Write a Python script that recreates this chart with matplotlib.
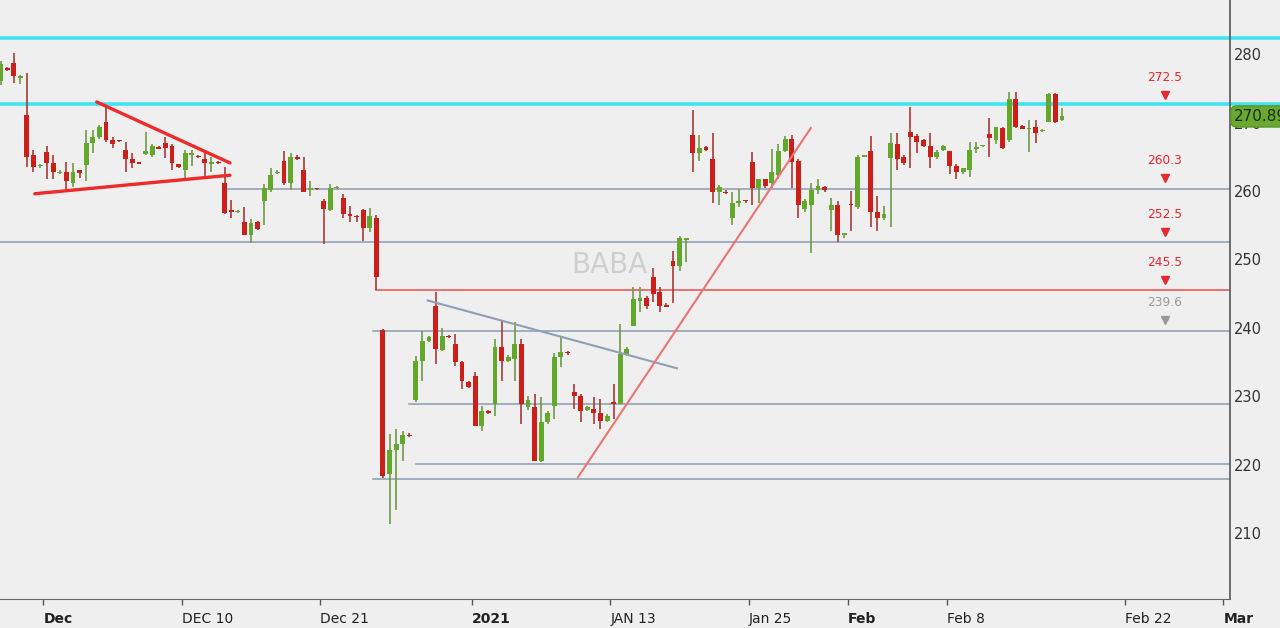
import matplotlib.pyplot as plt
import numpy as np

# 130-minute bars (3 per trading day), BABA late Nov 2020 - Feb 2021
opens = [276.0, 278.0, 278.7, 276.5, 271.1, 265.2, 263.6, 265.7, 264.1, 262.6,
         262.7, 261.2, 263.0, 263.8, 267.0, 267.9, 270.1, 267.5, 267.4, 266.0,
         264.7, 264.2, 265.4, 265.3, 266.4, 267.0, 266.5, 263.9, 263.1, 265.2,
         265.1, 264.7, 264.0, 264.2, 261.1, 257.2, 256.9, 255.4, 253.5, 255.4,
         258.5, 260.2, 262.6, 264.4, 261.1, 264.9, 263.0, 260.2, 260.4, 258.5,
         257.2, 260.4, 259.0, 256.6, 256.4, 257.2, 254.6, 256.1, 239.7, 218.7,
         222.1, 223.0, 224.4, 229.4, 235.2, 238.1, 243.2, 236.8, 238.8, 237.6,
         235.0, 232.1, 233.0, 225.7, 227.9, 228.9, 237.2, 235.2, 235.4, 237.7,
         228.4, 228.5, 220.5, 226.3, 228.6, 235.8, 236.5, 230.6, 230.1, 228.0,
         228.2, 227.5, 226.4, 229.0, 228.9, 236.1, 240.3, 244.0, 244.3, 247.5,
         245.2, 243.3, 249.7, 249.0, 252.9, 268.2, 265.6, 266.4, 264.7, 259.8,
         259.9, 256.0, 258.2, 258.6, 264.3, 260.5, 261.7, 261.2, 262.4, 265.9,
         267.6, 264.4, 257.3, 258.0, 260.1, 260.6, 257.2, 257.9, 253.6, 258.1,
         257.7, 265.0, 265.9, 257.0, 256.0, 264.8, 266.8, 264.9, 268.6, 268.0,
         267.5, 266.6, 264.9, 266.0, 265.9, 263.7, 262.8, 263.1, 266.1, 266.5,
         268.3, 267.5, 269.2, 267.5, 273.5, 269.5, 269.0, 269.3, 268.7, 270.1,
         274.1, 270.3]
highs = [279.0, 278.1, 280.1, 277.0, 277.2, 266.0, 264.0, 266.6, 265.3, 263.0,
         264.3, 264.1, 263.1, 268.9, 268.9, 269.6, 272.3, 267.9, 267.5, 267.2,
         265.6, 264.3, 268.6, 266.9, 266.5, 267.9, 266.8, 264.0, 266.0, 266.0,
         265.2, 265.6, 264.9, 264.4, 263.5, 258.7, 257.2, 257.7, 255.9, 255.6,
         261.0, 263.4, 263.0, 265.9, 265.5, 265.2, 265.0, 261.4, 260.5, 258.8,
         261.0, 260.7, 259.5, 257.8, 256.5, 257.3, 257.5, 256.5, 239.9, 224.5,
         225.3, 224.9, 224.6, 235.9, 239.6, 238.8, 245.2, 240.0, 239.0, 239.1,
         235.2, 232.3, 233.6, 228.6, 228.0, 238.4, 241.0, 236.0, 240.8, 238.4,
         230.0, 230.4, 229.9, 227.8, 236.3, 238.8, 236.6, 231.8, 230.4, 228.6,
         229.9, 229.6, 227.4, 231.8, 240.6, 237.2, 245.9, 245.9, 244.6, 248.7,
         246.0, 243.6, 251.3, 253.4, 253.2, 271.8, 268.2, 266.5, 268.5, 260.9,
         260.1, 259.8, 260.3, 258.7, 265.7, 261.7, 261.7, 266.2, 266.8, 268.0,
         268.2, 264.6, 258.8, 261.2, 261.7, 260.8, 259.0, 258.5, 253.8, 260.0,
         265.3, 265.3, 268.0, 259.2, 257.8, 268.5, 268.5, 265.2, 272.2, 268.3,
         267.6, 268.4, 266.0, 266.7, 265.9, 264.0, 263.4, 267.2, 267.2, 266.6,
         270.7, 269.4, 269.3, 274.5, 274.5, 269.6, 270.4, 270.4, 269.1, 274.3,
         274.3, 272.1]
lows = [275.5, 277.6, 275.8, 275.7, 263.5, 262.7, 263.3, 261.8, 261.7, 262.5,
        260.2, 260.6, 261.9, 261.4, 265.6, 267.6, 267.2, 266.3, 267.2, 262.7,
        263.4, 263.9, 265.2, 265.0, 266.1, 264.8, 263.1, 263.4, 261.4, 263.6,
        264.8, 262.1, 262.7, 264.0, 256.6, 256.1, 256.8, 253.5, 252.4, 254.3,
        255.1, 259.8, 262.5, 260.9, 260.2, 264.5, 259.8, 259.2, 260.1, 252.2,
        257.1, 260.3, 256.1, 255.4, 255.5, 252.7, 254.0, 245.6, 218.1, 211.4,
        213.4, 220.5, 224.1, 229.1, 232.3, 237.9, 234.7, 236.6, 238.5, 234.4,
        231.1, 231.2, 225.6, 225.0, 227.4, 227.2, 232.3, 235.0, 232.3, 226.0,
        228.0, 220.5, 220.4, 226.0, 226.7, 234.3, 236.1, 228.2, 226.3, 227.8,
        226.0, 225.2, 226.2, 226.7, 228.9, 235.9, 240.3, 242.3, 242.7, 243.8,
        242.3, 243.0, 243.6, 248.3, 249.6, 262.7, 264.4, 265.8, 258.3, 258.0,
        259.5, 255.0, 257.7, 258.3, 258.0, 258.3, 260.4, 260.5, 261.7, 265.7,
        260.5, 256.1, 256.9, 251.0, 259.5, 259.9, 254.1, 252.5, 253.2, 254.1,
        257.3, 264.9, 254.7, 254.1, 255.8, 254.7, 263.1, 263.8, 263.4, 265.6,
        266.4, 263.3, 264.6, 265.9, 262.5, 261.8, 262.5, 262.0, 265.6, 266.4,
        264.9, 266.8, 266.2, 267.2, 269.2, 269.0, 265.7, 267.0, 268.6, 270.1,
        269.9, 270.2]
closes = [278.5, 277.7, 276.8, 276.8, 265.0, 263.5, 263.8, 264.1, 262.7, 262.8,
          261.4, 262.7, 262.6, 267.0, 267.9, 269.3, 267.5, 266.8, 267.3, 264.6,
          264.1, 264.0, 265.9, 266.5, 266.2, 266.3, 264.1, 263.5, 265.6, 265.5,
          264.9, 264.1, 264.3, 264.1, 256.8, 257.0, 257.1, 253.5, 255.3, 254.5,
          260.4, 262.4, 262.8, 261.1, 264.9, 264.6, 259.9, 260.5, 260.3, 257.3,
          260.4, 260.6, 256.6, 256.3, 256.2, 254.6, 256.4, 247.5, 218.4, 222.1,
          223.1, 224.4, 224.2, 235.2, 238.1, 238.6, 236.9, 238.8, 238.6, 235.0,
          232.2, 231.4, 225.7, 227.9, 227.6, 237.2, 235.2, 235.7, 237.7, 228.9,
          229.5, 220.5, 226.3, 227.5, 235.8, 236.5, 236.3, 230.1, 227.9, 228.4,
          227.5, 226.4, 227.2, 228.9, 236.2, 236.9, 244.2, 244.4, 243.2, 244.9,
          243.2, 243.1, 249.1, 253.1, 253.1, 265.6, 266.3, 266.0, 259.8, 260.6,
          259.7, 258.2, 258.6, 258.5, 260.5, 261.7, 260.8, 262.8, 265.8, 267.6,
          264.3, 258.0, 258.5, 260.1, 260.8, 260.1, 257.9, 253.6, 253.7, 257.9,
          264.9, 265.2, 257.0, 256.0, 256.6, 267.0, 264.7, 264.1, 267.9, 267.2,
          266.6, 264.9, 265.7, 266.6, 263.7, 262.8, 263.3, 266.0, 266.4, 266.5,
          267.7, 269.3, 266.3, 273.5, 269.4, 269.1, 269.1, 268.5, 268.9, 274.1,
          270.1, 270.89]

tick_pos = [6.5, 27.5, 48.5, 71.5, 92.5, 113.5, 128.5, 143.5, 170.5, 185.5]
tick_labels = ['Dec', 'DEC 10', 'Dec 21', '2021', 'JAN 13', 'Jan 25', 'Feb', 'Feb 8', 'Feb 22', 'Mar']
bold_labels = ['Dec', '2021', 'Feb', 'Mar']

cyan_levels = [282.3, 272.7]
gray_starts = [34.5, -1.0, 56.5, 62.0, 63.0, 56.5]
gray_levels = [260.3, 252.5, 239.6, 228.9, 220.1, 217.9]
red_start, red_level = 57.0, 245.5

target_values = [272.5, 260.3, 252.5, 245.5, 239.6]
target_colors = ['#e8282d', '#e8282d', '#e8282d', '#e8282d', '#999999']

tri_upper = ([14.6, 34.8], [273.0, 264.1])
tri_lower = ([5.2, 34.8], [259.6, 262.3])
down_line = ([64.8, 102.6], [244.0, 234.1])
up_line = ([87.6, 122.9], [218.2, 269.2])

last_price = 270.89

bg = '#efefef'
green = '#62a82a'
red = '#cc1f1a'

fig = plt.figure(figsize=(12.8, 6.28), dpi=100, facecolor=bg)
ax = fig.add_axes([0.0, 0.0457, 0.961, 0.9543])
ax.set_facecolor(bg)

o = np.array(opens)
h = np.array(highs)
l = np.array(lows)
c = np.array(closes)
x = np.arange(len(o))
up = c >= o
cols = np.where(up, green, red)
wick_cols = np.where(up, '#6e9a45', '#a83a36')

ax.vlines(x, l, h, colors=wick_cols, linewidth=1.2, zorder=3)
body_bottom = np.minimum(o, c)
body_h = np.maximum(np.abs(c - o), 0.2)
ax.bar(x, body_h, bottom=body_bottom, width=0.74, color=cols, linewidth=0, zorder=4)

# level lines
for lv in cyan_levels:
    ax.plot([-1, 194], [lv, lv], color='#3fe3f2', lw=2.6, zorder=2, clip_on=False)
for st, lv in zip(gray_starts, gray_levels):
    ax.plot([st, 190], [lv, lv], color='#8c9cb2', lw=1.1, zorder=2)
ax.plot([red_start, 190], [red_level, red_level], color='#ee5a5a', lw=1.2, zorder=2)

# trend lines
ax.plot(*tri_upper, color='#ee2a2a', lw=2.4, zorder=5, solid_capstyle='round')
ax.plot(*tri_lower, color='#ee2a2a', lw=2.4, zorder=5, solid_capstyle='round')
ax.plot(*down_line, color='#8f9fb5', lw=1.5, zorder=5)
ax.plot(*up_line, color='#f07272', lw=1.5, zorder=5)

ax.text(92.4, 249.2, 'BABA', color='#cfcfcf', fontsize=20, ha='center', va='center', zorder=1)

# target labels on the right
for val, col in zip(target_values, target_colors):
    ax.text(176.6, val + 4.1, f'{val:.1f}', color=col, fontsize=8.8, ha='center', va='center', zorder=6)
    ax.plot([176.6], [val + 1.55], marker='v', color=col, markersize=6, zorder=6)

ax.set_xlim(-0.08, 186.5)
ax.set_ylim(200.35, 287.9)

ax.yaxis.tick_right()
ax.set_yticks(np.arange(210, 281, 10))
ax.tick_params(axis='y', length=0, pad=3, labelsize=10.5, labelcolor='#333333')
ax.set_xticks(tick_pos)
ax.set_xticklabels(tick_labels)
ax.tick_params(axis='x', length=4, width=1, color='#555555', pad=5, labelsize=10, labelcolor='#222222')
for lbl in ax.get_xticklabels():
    lbl.set_ha('left')
    if lbl.get_text() in bold_labels:
        lbl.set_fontweight('bold')

for side in ['top', 'left']:
    ax.spines[side].set_visible(False)
ax.spines['right'].set_color('#555555')
ax.spines['bottom'].set_color('#666666')
ax.spines['right'].set_linewidth(1.2)

ax.text(1.003, last_price, f'{last_price:.2f}', transform=ax.get_yaxis_transform(),
        fontsize=11, color='#16300a', ha='left', va='center', zorder=10, clip_on=False,
        bbox=dict(boxstyle='round,pad=0.2,rounding_size=0.4', facecolor='#6aa832', edgecolor='#5a9428'))

fig.savefig('out.png', dpi=100, facecolor=bg)
